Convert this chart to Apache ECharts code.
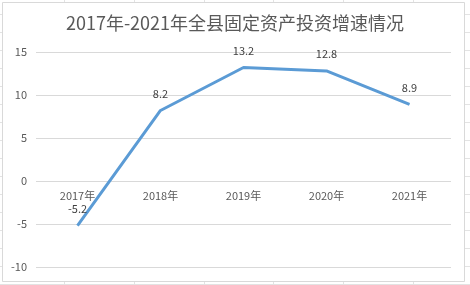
<!DOCTYPE html>
<html><head><meta charset="utf-8">
<script src="https://cdn.jsdelivr.net/npm/echarts@6/dist/echarts.min.js"></script>
<style>html,body{margin:0;padding:0;background:#fff}#c{width:470px;height:285px}</style>
</head><body><div id="c"></div>
<script>
const categories = ['2017年','2018年','2019年','2020年','2021年'];
const growth = [-5.2, 8.2, 13.2, 12.8, 8.9];
const yTicks = [-10, -5, 0, 5, 10, 15];
const titleText = '2017年-2021年全县固定资产投资增速情况';

const FONT = '"Noto Sans CJK SC", "Noto Sans", sans-serif';
const chart = echarts.init(document.getElementById('c'));

const bg = [];
[64,134,204,273,343,413].forEach(x => bg.push({type:'line', z:-10, silent:true,
  shape:{x1:x+0.5,y1:0,x2:x+0.5,y2:285}, style:{stroke:'#e3e3e3',lineWidth:1}}));
for (let y = 14; y < 285; y += 18) bg.push({type:'line', z:-10, silent:true,
  shape:{x1:0,y1:y+0.5,x2:470,y2:y+0.5}, style:{stroke:'#e3e3e3',lineWidth:1}});
bg.push({type:'rect', z:-5, silent:true, shape:{x:2.5,y:2.5,width:462,height:279},
  style:{fill:'#fff', stroke:'#d9d9d9', lineWidth:1}});

const gridTop = 52, gridBottom = 18, H = 285;
const plotH = H - gridTop - gridBottom;
const yMin = yTicks[0], yMax = yTicks[yTicks.length-1];
const zeroOffset = -plotH * (0 - yMin) / (yMax - yMin);

chart.setOption({
  backgroundColor:'#fff',
  animation:false,
  graphic: bg,
  title:{text:titleText, left:'center', top:9,
    textStyle:{fontFamily:FONT, fontSize:18, fontWeight:'normal', color:'#595959'}},
  grid:{left:36, right:19, top:gridTop, bottom:gridBottom},
  xAxis:{type:'category', data:categories, boundaryGap:true, offset:zeroOffset,
    axisLine:{show:false}, axisTick:{show:false},
    axisLabel:{fontFamily:FONT, fontSize:11, color:'#595959', margin:9}},
  yAxis:{type:'value', min:yMin, max:yMax, interval:5,
    axisLine:{show:false}, axisTick:{show:false},
    splitLine:{lineStyle:{color:'#d9d9d9'}},
    axisLabel:{fontFamily:FONT, fontSize:11, color:'#595959', margin:9}},
  series:[{type:'line', data:growth, showSymbol:true, symbol:'circle', symbolSize:0.5,
    itemStyle:{color:'#5b9bd5'},
    lineStyle:{color:'#5b9bd5', width:3},
    label:{show:true, position:'top', distance:11, fontFamily:FONT, fontSize:11, color:'#404040'}}]
});
</script></body></html>
